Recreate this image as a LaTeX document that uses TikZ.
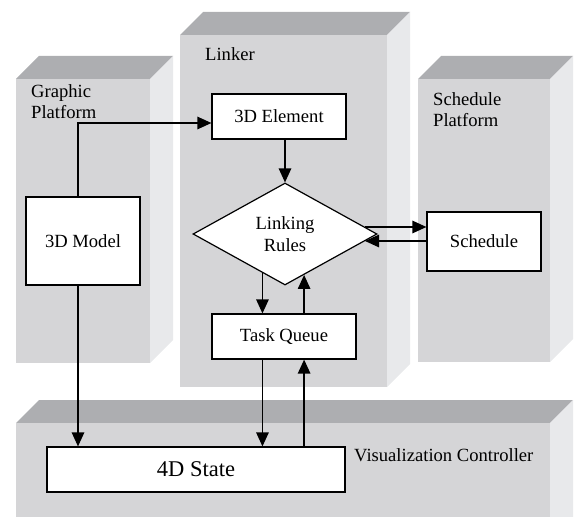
\documentclass[tikz,border=0pt]{standalone}
\usepackage{fontspec}
\setmainfont{Liberation Serif}
\usetikzlibrary{arrows.meta,shapes.geometric}
\definecolor{frontgray}{HTML}{D5D5D7}
\definecolor{topgray}{HTML}{ADAEB1}
\definecolor{sidegray}{HTML}{E8E9EB}
\tikzset{
  >={Triangle[length=14pt,width=12.5pt]},
  {front face/.style} ={fill=frontgray},
  {top face/.style} ={fill=topgray},
  {side face/.style} ={fill=sidegray},
  {box/.style} ={rectangle,draw,fill=white,line width=1.2pt,inner sep=0,
                 font=\fontsize{18.6}{21}\selectfont},
  {rule box/.style} ={diamond,draw,fill=white,line width=1.2pt,inner sep=0,
                 align=center,font=\fontsize{18.6}{22}\selectfont},
  {label/.style} ={inner sep=0,align=left,
                 font=\fontsize{18.6}{21}\selectfont},
  link/.style ={line width=1.3pt,->},
}
% front face from (#1,#2) to (#3,#4), depth 23
\newcommand\platform[4]{%
  \fill[top face] (#1,#2) -- ++(23,-23) -- (#3+23,#2-23) -- (#3,#2) -- cycle;
  \fill[side face] (#3,#2) -- (#3+23,#2-23) -- (#3+23,#4-23) -- (#3,#4) -- cycle;
  \fill[front face] (#1,#2) rectangle (#3,#4);
}

\begin{document}
\begin{tikzpicture}[x=1pt,y=-1pt]
\useasboundingbox (0,0) rectangle (577,516);
\clip (0,0) rectangle (577,516);

\platform{16}{79}{150}{363}
\platform{180}{35}{387}{387}
\platform{418}{79}{550}{362}
\platform{16}{423}{550}{545}

\node[label,anchor=base west] (gtitle) at (31,97) {Graphic};
\node[label,anchor=base west] (gtitle2) at (31,118) {Platform};
\node[label,anchor=base west] (ltitle) at (205,61) {Linker};
\node[label,anchor=base west] (stitle) at (433,105) {Schedule};
\node[label,anchor=base west] (stitle2) at (433,126) {Platform};
\node[label,anchor=base west] (vtitle) at (354,461) {Visualization Controller};

\node[box,minimum width=134pt,minimum height=45pt] (elem) at (279,116.5) {3D Element};
\node[box,minimum width=114pt,minimum height=88pt] (model) at (83,241) {3D Model};
\node[rule box,minimum width=184pt,minimum height=102pt] (rules) at (285,234) {Linking\\Rules};
\node[box,minimum width=114pt,minimum height=59pt] (sched) at (484,241.5) {Schedule};
\node[box,minimum width=144pt,minimum height=45pt] (queue) at (284,336.5) {Task Queue};
\node[box,minimum width=298pt,minimum height=45pt,
      font=\fontsize{22.5}{24}\selectfont] (state) at (196,469.5) {4D State};

\coordinate (mtop) at ([xshift=-5pt]model.north);
\coordinate (mbot) at ([xshift=-5pt]model.south);
\draw[link] (mtop) |- ([yshift=-6.5pt]elem.west);
\draw[link] (mbot) -- (mbot |- state.north);
\draw[link] (rules.north |- elem.south) -- (rules.north);
\draw[link] (rules.5.9) -- (rules.5.9 -| sched.west);
\draw[link] (rules.-5.9 -| sched.west) -- (rules.-5.9);
\draw[link] (rules.240) -- (rules.240 |- queue.north);
\draw[link] (rules.295 |- queue.north) -- (rules.295);
\draw[link] (rules.240 |- queue.south) -- (rules.240 |- state.north);
\draw[link] (rules.295 |- state.north) -- (rules.295 |- queue.south);
\end{tikzpicture}
\end{document}
